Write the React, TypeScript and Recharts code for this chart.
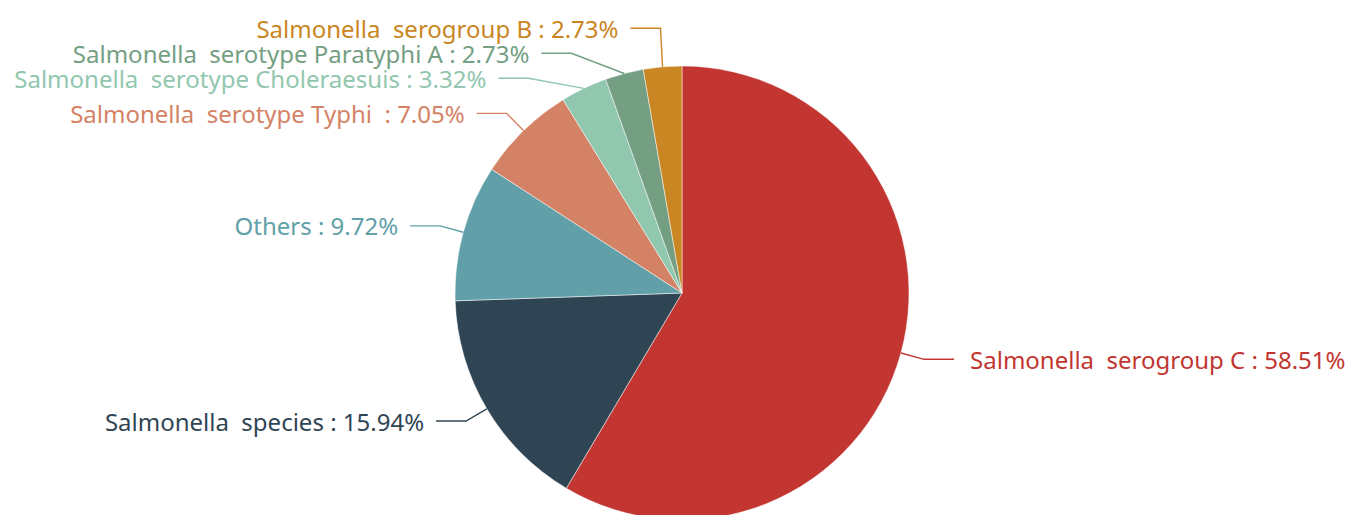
import { PieChart, Pie, Cell } from 'recharts';

const NAMES = [
  'Salmonella  serogroup C',
  'Salmonella  species',
  'Others',
  'Salmonella  serotype Typhi ',
  'Salmonella  serotype Choleraesuis',
  'Salmonella  serotype Paratyphi A',
  'Salmonella  serogroup B',
];
const VALUES = [58.51, 15.94, 9.72, 7.05, 3.32, 2.73, 2.73];
const COLORS = ['#c23531', '#2f4554', '#61a0a8', '#d48265', '#91c7ae', '#749f83', '#ca8622'];

const data = NAMES.map((name, i) => ({ name, value: VALUES[i] }));

const RAD = Math.PI / 180;
const CX = 682;
const CY = 293;
const R = 227;
const LEN1 = 24;
const LEN2 = 30;
const GAP = 25;

// label layout: natural anchor on r+LEN1, then push overlapping labels apart (per side)
function layoutLabels() {
  const total = VALUES.reduce((a, b) => a + b, 0);
  let cum = 0;
  const items = VALUES.map((v, i) => {
    const mid = 90 - (360 * (cum + v / 2)) / total;
    cum += v;
    const cos = Math.cos(-mid * RAD);
    const sin = Math.sin(-mid * RAD);
    const rr = R + LEN1;
    return { i, cos, sin, x: CX + rr * cos, y: CY + rr * sin, ny: CY + rr * sin, left: cos < 0 };
  });
  [true, false].forEach((side) => {
    const list = items.filter((d) => d.left === side).sort((a, b) => a.ny - b.ny);
    let changed = true;
    let guard = 0;
    while (changed && guard++ < 50) {
      changed = false;
      for (let k = 1; k < list.length; k++) {
        if (list[k].y - list[k - 1].y < GAP - 0.01) {
          let s = k - 1;
          while (s > 0 && list[s].y - list[s - 1].y < GAP + 0.01) s--;
          let e = k;
          while (e < list.length - 1 && list[e + 1].y - list[e].y < GAP + 0.01) e++;
          const group = list.slice(s, e + 1);
          const mean = group.reduce((a, d) => a + d.ny, 0) / group.length;
          const start = mean - ((group.length - 1) * GAP) / 2;
          group.forEach((d, j) => (d.y = start + j * GAP));
          changed = true;
        }
      }
    }
    list.forEach((d) => {
      if (Math.abs(d.y - d.ny) > 1) {
        const R2 = R + 37;
        const dy = d.y - CY;
        const dx = Math.sqrt(Math.max(0, R2 * R2 - dy * dy));
        d.x = side ? Math.min(CX - dx, d.x) : Math.max(CX + dx, d.x);
      }
    });
  });
  return items;
}

const LABELS = layoutLabels();

const renderLabel = (props: any) => {
  const { cx, cy, midAngle, outerRadius, index, name, value } = props;
  const lay = LABELS[index];
  const sx = cx + outerRadius * Math.cos(-midAngle * RAD);
  const sy = cy + outerRadius * Math.sin(-midAngle * RAD);
  const ex = lay.left ? lay.x - LEN2 : lay.x + LEN2;
  const color = COLORS[index % COLORS.length];
  return (
    <g key={`lbl-${index}`}>
      <polyline
        points={`${sx},${sy} ${lay.x},${lay.y} ${ex},${lay.y}`}
        fill="none"
        stroke={color}
        strokeWidth={1.4}
      />
      <text
        x={lay.left ? ex - 12 : ex + 16}
        y={lay.y}
        fill={color}
        textAnchor={lay.left ? 'end' : 'start'}
        dominantBaseline="central"
        fontSize={24}
        fontFamily="'Noto Sans', sans-serif"
        xmlSpace="preserve"
        style={{ whiteSpace: 'pre' }}
      >
        {`${name} : ${value.toFixed(2)}%`}
      </text>
    </g>
  );
};

export default function App() {
  return (
    <div style={{ position: 'absolute', left: 0, top: 0, width: 1357, height: 515, background: '#fff' }}>
      <PieChart width={1357} height={515} margin={{ top: 0, right: 0, bottom: 0, left: 0 }}>
        <Pie
          data={data}
          dataKey="value"
          nameKey="name"
          cx={CX}
          cy={CY}
          outerRadius={R}
          startAngle={90}
          endAngle={-270}
          stroke="#ffffff"
          strokeWidth={0.5}
          label={renderLabel}
          labelLine={false}
          isAnimationActive={false}
        >
          {data.map((_d, i) => (
            <Cell key={`cell-${i}`} fill={COLORS[i % COLORS.length]} />
          ))}
        </Pie>
      </PieChart>
    </div>
  );
}
